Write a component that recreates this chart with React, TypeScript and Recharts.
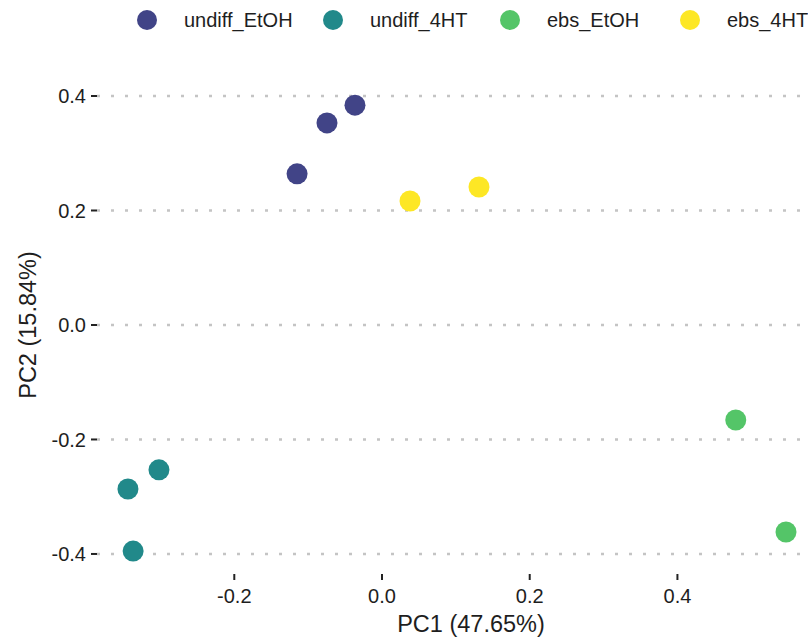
import { ScatterChart, Scatter, XAxis, YAxis, CartesianGrid } from "recharts";

// PCA scores
const undiffEtOH = [
  { pc1: -0.115, pc2: 0.264 },
  { pc1: -0.0745, pc2: 0.353 },
  { pc1: -0.0366, pc2: 0.384 },
];
const undiff4HT = [
  { pc1: -0.302, pc2: -0.253 },
  { pc1: -0.344, pc2: -0.2865 },
  { pc1: -0.337, pc2: -0.395 },
];
const ebsEtOH = [
  { pc1: 0.479, pc2: -0.166 },
  { pc1: 0.547, pc2: -0.3616 },
];
const ebs4HT = [
  { pc1: 0.0379, pc2: 0.2166 },
  { pc1: 0.1313, pc2: 0.241 },
];

const groupNames = ["undiff_EtOH", "undiff_4HT", "ebs_EtOH", "ebs_4HT"];
const groupColors = ["#414487", "#21898A", "#54C568", "#FDE725"];
const groupData = [undiffEtOH, undiff4HT, ebsEtOH, ebs4HT];

const xTicks = [-0.2, 0, 0.2, 0.4];
const yTicks = [-0.4, -0.2, 0, 0.2, 0.4];

const FONT = "'Liberation Sans', Arial, Helvetica, sans-serif";
const TEXT = "#1e1e1e";

// legend item positions (circle centre)
const legendX = [147, 333, 510, 690];

const fmt = (v: number) => (v === 0 ? "0.0" : v.toFixed(1));

function Dot(props: any) {
  const { cx, cy, fill } = props;
  return <circle cx={cx} cy={cy} r={10.5} fill={fill} />;
}

export default function App() {
  return (
    <div
      style={{
        position: "absolute",
        left: 0,
        top: 0,
        width: 808,
        height: 641,
        background: "#fff",
        fontFamily: FONT,
      }}
    >
      {/* legend on top */}
      {groupNames.map((name, i) => (
        <div key={name}>
          <div
            style={{
              position: "absolute",
              left: legendX[i] - 10,
              top: 10,
              width: 20,
              height: 20,
              borderRadius: 10,
              background: groupColors[i],
            }}
          />
          <div
            style={{
              position: "absolute",
              left: legendX[i] + 37,
              top: 8,
              fontSize: 20,
              lineHeight: "24px",
              color: TEXT,
              whiteSpace: "nowrap",
            }}
          >
            {name}
          </div>
        </div>
      ))}

      <ScatterChart
        width={808}
        height={641}
        margin={{ top: 83, right: 0, bottom: 0, left: 0 }}
        style={{ position: "absolute", left: 0, top: 0 }}
      >
        <CartesianGrid
          vertical={false}
          horizontalValues={yTicks}
          stroke="#c4c4c4"
          strokeWidth={2.5}
          strokeDasharray="3 11"
        />
        <XAxis
          type="number"
          dataKey="pc1"
          domain={[-0.3859, 0.5768]}
          allowDataOverflow
          ticks={xTicks}
          tickFormatter={fmt}
          axisLine={false}
          tickSize={6}
          tickMargin={9}
          tickLine={{ stroke: "#222", strokeWidth: 2 }}
          tick={{ fill: TEXT, fontSize: 20, fontFamily: FONT }}
          height={67}
          label={{
            content: () => (
              <text
                x={471}
                y={624}
                textAnchor="middle"
                dominantBaseline="central"
                fontSize={23.5}
                fontFamily={FONT}
                fill={TEXT}
              >
                PC1 (47.65%)
              </text>
            ),
          }}
        />
        <YAxis
          type="number"
          dataKey="pc2"
          domain={[-0.435, 0.4227]}
          allowDataOverflow
          ticks={yTicks}
          tickFormatter={fmt}
          axisLine={false}
          width={97}
          tickSize={6}
          tickMargin={5}
          tickLine={{ stroke: "#222", strokeWidth: 2 }}
          tick={{ fill: TEXT, fontSize: 20, fontFamily: FONT }}
          label={{
            content: () => (
              <text
                x={28}
                y={325}
                textAnchor="middle"
                dominantBaseline="central"
                fontSize={23.5}
                fontFamily={FONT}
                fill={TEXT}
                transform="rotate(-90, 28, 325)"
              >
                PC2 (15.84%)
              </text>
            ),
          }}
        />
        {groupData.map((data, i) => (
          <Scatter
            key={groupNames[i]}
            name={groupNames[i]}
            data={data}
            fill={groupColors[i]}
            shape={<Dot />}
            isAnimationActive={false}
          />
        ))}
      </ScatterChart>
    </div>
  );
}
